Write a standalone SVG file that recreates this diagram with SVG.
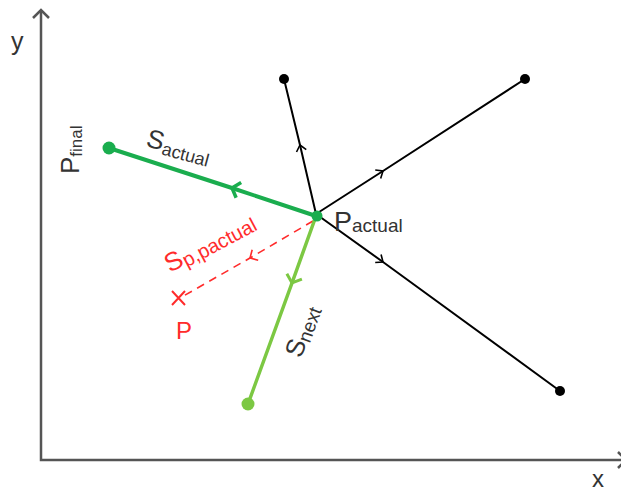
<svg xmlns="http://www.w3.org/2000/svg" width="621" height="492" viewBox="0 0 621 492">
<style>
.lbl{font-family:"Liberation Sans",Arial,sans-serif;fill:#333}
.red{font-family:"Liberation Sans",Arial,sans-serif;fill:#ff2b2b}
.axis{stroke:#555;stroke-width:2.5;fill:none}
.blk{stroke:#000;stroke-width:2;fill:none}
.dg{stroke:#1aad4e;stroke-width:4;fill:none}
.lg{stroke:#7cc843;stroke-width:3.5;fill:none}
.rd{stroke:#ff2b2b;stroke-width:1.6;fill:none;stroke-dasharray:8 6}
</style>
<defs>
<marker id="mb" markerUnits="userSpaceOnUse" markerWidth="20" markerHeight="20" viewBox="-10 -10 20 20" refX="0" refY="0" orient="auto" overflow="visible"><path d="M-6,-5 L0,0 L-6,5" fill="none" stroke="#000" stroke-width="1.6"/></marker>
<marker id="mdg" markerUnits="userSpaceOnUse" markerWidth="20" markerHeight="20" viewBox="-10 -10 20 20" refX="0" refY="0" orient="auto" overflow="visible"><path d="M-7,-8 L0,0 L-7,8" fill="none" stroke="#1aad4e" stroke-width="3.5"/></marker>
<marker id="mlg" markerUnits="userSpaceOnUse" markerWidth="20" markerHeight="20" viewBox="-10 -10 20 20" refX="0" refY="0" orient="auto" overflow="visible"><path d="M-7,-8 L0,0 L-7,8" fill="none" stroke="#7cc843" stroke-width="3"/></marker>
<marker id="mrd" markerUnits="userSpaceOnUse" markerWidth="20" markerHeight="20" viewBox="-10 -10 20 20" refX="0" refY="0" orient="auto" overflow="visible"><path d="M-6,-6 L0,0 L-6,6" fill="none" stroke="#ff2b2b" stroke-width="1.6"/></marker>
</defs>

<g id="axes">
<path class="axis" d="M41,10 L41,460 L621,460"/>
<path class="axis" d="M33,18 L41,10 L49,18"/>
<path class="axis" d="M618,452 L626,460 L618,468"/>
<text class="lbl" x="11" y="50" font-size="25">y</text>
<text class="lbl" x="592" y="487" font-size="24">x</text>
</g>

<g id="connectors">
<path class="rd" d="M313,221 L250,258 L180,298" marker-mid="url(#mrd)"/>
<path class="dg" d="M316,216 L232,188 L109,148" marker-mid="url(#mdg)"/>
<path class="lg" d="M316,216 L292,283 L248,404" marker-mid="url(#mlg)"/>
<path class="blk" d="M316,214 L300,145 L284,79" marker-mid="url(#mb)"/>
<path class="blk" d="M316,214 L383,171 L525,79" marker-mid="url(#mb)"/>
<path class="blk" d="M316,214 L383,262 L560,391" marker-mid="url(#mb)"/>
</g>

<g id="p-final">
<circle cx="109" cy="148" r="6.5" fill="#1aad4e"/>
<text class="lbl" transform="translate(79,174) rotate(-90)" font-size="26">P<tspan font-size="17" dy="3">final</tspan></text>
</g>

<g id="s-actual">
<text class="lbl" transform="translate(145,146) rotate(15)" font-size="26">S<tspan font-size="18" dy="4">actual</tspan></text>
</g>

<g id="p-actual">
<circle cx="317" cy="216" r="5.5" fill="#1aad4e"/>
<text class="lbl" x="334" y="231" font-size="27">P<tspan font-size="19" dy="1">actual</tspan></text>
</g>

<g id="top-left-end">
<circle cx="284" cy="79" r="5" fill="#000"/>
</g>
<g id="top-right-end">
<circle cx="525" cy="79" r="5" fill="#000"/>
</g>
<g id="bottom-right-end">
<circle cx="560" cy="391" r="5" fill="#000"/>
</g>

<g id="s-next">
<circle cx="248" cy="404" r="6.5" fill="#7cc843"/>
<text class="lbl" transform="translate(301,359) rotate(-70)" font-size="26">S<tspan font-size="19" dy="3">next</tspan></text>
</g>

<g id="p-point">
<path d="M172,291 L185,305 M185,291 L172,305" stroke="#ff2b2b" stroke-width="2" fill="none"/>
<text class="red" x="176" y="339" font-size="24">P</text>
<text class="red" transform="translate(170,273) rotate(-28)" font-size="26">S<tspan font-size="20" dy="3">p,pactual</tspan></text>
</g>
</svg>
